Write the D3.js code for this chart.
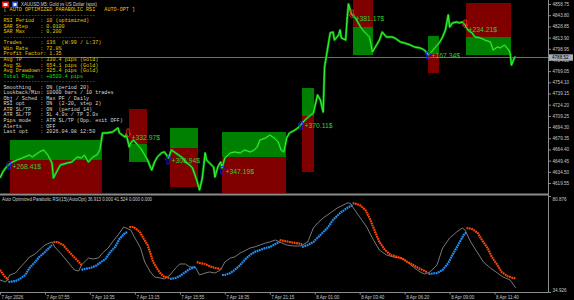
<!DOCTYPE html>
<html>
<head>
<meta charset="utf-8">
<script src="https://cdn.jsdelivr.net/npm/d3@7"></script>
<style>
  html, body { margin: 0; padding: 0; background: #000; }
  svg { display: block; }
  .mono { font-family: "Liberation Mono", "DejaVu Sans Mono", monospace; white-space: pre; }
  .sans { font-family: "Liberation Sans", Arial, sans-serif; }
</style>
</head>
<body>
<svg id="chart"></svg>
<script>
// ---- data ----
// [bar index, price]  (M5 bars, bar 0 = 7 Apr 05:15)
const closes = [[0,4626.2],[2,4634.3],[4,4639.6],[6,4643.6],[9,4647.6],[12,4650.3],[16,4653.0],[21,4657.0],[23,4654.3],[28,4661.0],[31,4663.7],[34,4657.0],[37,4646.3],[38,4626.2],[41,4636.9],[43,4643.6],[48,4646.3],[51,4647.6],[55,4654.3],[58,4653.0],[60,4657.0],[63,4647.6],[66,4654.3],[69,4657.0],[71,4663.7],[73,4686.4],[76,4686.4],[80,4687.7],[84,4693.1],[85,4686.4],[89,4681.0],[90,4683.7],[92,4667.7],[93,4673.0],[95,4677.0],[98,4670.3],[100,4666.3],[103,4657.0],[105,4650.3],[107,4640.9],[108,4636.9],[110,4647.6],[112,4654.3],[115,4659.7],[117,4661.0],[120,4653.0],[122,4663.7],[125,4659.7],[127,4657.0],[130,4653.0],[132,4647.6],[135,4643.6],[137,4639.6],[140,4623.6],[142,4610.2],[144,4626.2],[146,4659.7],[147,4650.3],[149,4646.3],[152,4640.9],[153,4627.6],[155,4640.9],[157,4647.6],[158,4639.6],[160,4653.0],[164,4659.7],[167,4661.0],[171,4659.7],[174,4663.7],[178,4661.0],[181,4663.7],[183,4667.7],[185,4677.0],[189,4679.7],[192,4683.7],[196,4678.4],[198,4674.3],[200,4663.7],[202,4661.0],[204,4679.7],[206,4686.4],[210,4690.4],[212,4693.1],[214,4697.1],[217,4703.7],[221,4710.4],[223,4713.1],[224,4721.1],[226,4737.1],[228,4730.5],[230,4714.4],[231,4774.6],[233,4797.3],[235,4820.0],[237,4821.3],[238,4810.6],[241,4817.3],[242,4824.0],[243,4813.3],[246,4810.6],[247,4837.4],[248,4858.8],[250,4845.4],[253,4840.0],[255,4833.4],[257,4826.7],[260,4820.0],[263,4814.7],[265,4794.6],[268,4804.0],[270,4810.6],[272,4821.3],[275,4814.7],[279,4814.7],[281,4813.3],[285,4808.0],[288,4806.6],[292,4804.0],[295,4801.3],[299,4800.0],[302,4797.3],[305,4790.6],[307,4794.6],[310,4801.3],[313,4808.0],[315,4814.7],[317,4824.0],[319,4844.1],[320,4828.0],[322,4833.4],[325,4834.7],[327,4833.4],[329,4834.7],[331,4830.7],[333,4824.0],[336,4820.0],[338,4814.7],[342,4813.3],[345,4810.6],[349,4808.0],[351,4797.3],[354,4801.3],[356,4800.0],[359,4804.0],[362,4797.3],[363,4793.3],[364,4777.2],[366,4786.6],[367,4788.5]];

const currentPrice = 4788.52;

const priceTicks = [4858.75,4843.80,4828.85,4813.90,4798.95,4784.00,4769.05,4754.10,4739.15,4724.20,4709.25,4694.30,4679.35,4664.40,4649.45,4634.50,4619.55];

const timeBars = [0,32,64,96,128,160,192,224,256,288,320,352];
const timeLabels = ["7 Apr 2026","7 Apr 07:55","7 Apr 10:35","7 Apr 13:15","7 Apr 15:55","7 Apr 18:35","7 Apr 21:15","8 Apr 01:00","8 Apr 03:40","8 Apr 06:20","8 Apr 09:00","8 Apr 11:40"];

// trade zones: upper / entry / lower price, bar span
const trades = [
  {side:"buy",  x0:7,     x1:72.5,  upper:4677.0, mid:4650.3, lower:4606.2},
  {side:"sell", x0:91.8,  x1:104.6, upper:4718.4, mid:4671.7, lower:4647.6},
  {side:"buy",  x0:121,   x1:140.9, upper:4693.1, mid:4666.3, lower:4614.2},
  {side:"buy",  x0:158,   x1:203.5, upper:4687.7, mid:4654.3, lower:4606.2},
  {side:"buy",  x0:214.9, x1:223.5, upper:4746.5, mid:4709.1, lower:4634.3},
  {side:"sell", x0:251.2, x1:265.5, upper:4866.8, mid:4828.0, lower:4790.6},
  {side:"buy",  x0:304.6, x1:312.4, upper:4816.0, mid:4791.9, lower:4766.5},
  {side:"sell", x0:331.6, x1:363.7, upper:4860.1, mid:4814.7, lower:4790.6}
];
const signalBars = [6.4, 91.1, 119.6, 158, 214.2, 250.5, 304.6, 331];
const signalPrices = [4643.6, 4686.4, 4650.3, 4636.9, 4697.1, 4845.4, 4790.6, 4832.0];
const profits = ["+268.41$","+332.97$","+305.94$","+347.19$","+370.11$","+381.17$","+167.34$","+234.21$"];

// RSI (gray) [bar, value]
const rsiLine = [[0,40.67],[4,39.72],[7,43.07],[11,44.02],[14,46.42],[18,49.29],[21,51.68],[25,53.12],[28,55.03],[32,57.42],[37,58.86],[39,56.47],[43,53.60],[46,51.20],[50,47.85],[53,45.46],[56,44.98],[58,47.85],[63,51.20],[66,50.72],[70,51.20],[73,53.60],[77,55.99],[80,58.86],[84,62.21],[88,66.04],[93,64.60],[96,60.77],[100,55.99],[103,49.29],[107,44.50],[110,42.11],[114,41.63],[117,41.15],[121,43.07],[125,46.42],[128,48.33],[132,48.33],[135,46.90],[139,46.90],[142,43.07],[146,44.02],[149,44.50],[153,44.02],[157,45.46],[160,49.29],[164,51.20],[167,51.68],[171,53.60],[174,54.55],[178,55.99],[181,56.47],[185,57.42],[189,58.38],[192,58.86],[196,59.82],[199,58.86],[204,57.42],[209,56.95],[214,56.95],[219,58.86],[223,65.56],[226,67.95],[230,70.35],[235,72.74],[240,75.13],[243,76.09],[247,77.53],[249,77.53],[251,75.61],[256,70.83],[261,66.04],[265,60.77],[270,55.03],[275,52.64],[280,51.68],[285,51.20],[290,49.29],[294,46.90],[299,44.50],[302,43.54],[306,44.50],[311,47.85],[315,55.99],[320,60.77],[325,63.65],[329,65.56],[331,64.60],[335,58.86],[340,53.60],[344,49.29],[349,46.42],[354,44.02],[358,42.11],[363,40.67],[367,36.91]];

// parabolic SAR on RSI, split by trend
const sarSegs = [
  {trend:"down", pts:[[0,45.46],[3,42.59],[6,40.67]]},
  {trend:"up",   pts:[[6,39.72],[11,40.19],[14,41.15],[18,43.07],[21,46.42],[25,49.29],[28,51.68],[32,54.07],[37,57.42]]},
  {trend:"down", pts:[[38,58.86],[41,58.86],[45,57.42],[48,55.03],[52,52.16],[56,49.29],[58,47.85]]},
  {trend:"up",   pts:[[58,45.46],[60,45.94],[64,46.42],[68,47.37],[71,48.81],[75,50.72],[78,53.60],[82,56.47],[85,60.30],[89,63.17],[91,63.65]]},
  {trend:"down", pts:[[92,66.04],[95,66.04],[98,64.60],[100,63.17],[102,60.77],[105,57.42],[107,53.60],[109,49.29],[112,45.94],[114,44.02],[117,42.11],[121,41.63]]},
  {trend:"up",   pts:[[121,41.15],[125,41.63],[128,42.59],[132,44.50],[135,45.94],[139,46.90]]},
  {trend:"down", pts:[[140,49.29],[142,48.81],[146,48.33],[149,47.37],[153,46.42],[157,45.94]]},
  {trend:"up",   pts:[[158,43.07],[160,43.07],[164,44.02],[167,45.46],[171,47.85],[174,50.25],[178,52.64],[181,54.07],[185,55.03],[189,55.99],[192,56.47],[196,57.90],[199,58.86]]},
  {trend:"down", pts:[[199,59.82],[206,58.86],[215,57.90]]},
  {trend:"up",   pts:[[215,56.47],[219,57.42],[223,58.86],[228,62.21],[233,65.56],[237,69.39],[242,72.74],[247,75.13],[251,76.57]]},
  {trend:"down", pts:[[251,77.53],[256,76.57],[260,74.18],[263,70.35],[267,63.65],[270,58.86],[274,55.03],[278,52.64],[283,51.68],[287,50.72],[290,49.29],[294,47.85],[299,45.94],[304,44.50]]},
  {trend:"up",   pts:[[305,43.54],[311,44.02],[315,45.46],[319,48.81],[322,52.64],[326,57.42],[330,62.21],[332,63.65]]},
  {trend:"down", pts:[[332,65.56],[336,65.08],[340,63.17],[343,59.82],[347,55.99],[350,51.68],[354,47.85],[357,44.50],[361,42.59],[365,41.63],[367,41.52]]}
];
const rsiTicks = [80.876, 34.926];

// info panel
const panelLines = [
  {t:"[ AUTO OPTIMIZED PARABOLIC RSI   AUTO-OPT ]", c:"#e6c800"},
  {t:"------------------------------", c:"#9a9a9a"},
  {t:"RSI Period  : 10 (optimized)", c:"#e6c800"},
  {t:"SAR Step    : 0.0100", c:"#e6c800"},
  {t:"SAR Max     : 0.200", c:"#e6c800"},
  {t:"------------------------------", c:"#9a9a9a"},
  {t:"Trades      : 136  (W:99 / L:37)", c:"#e6c800"},
  {t:"Win Rate    : 72.8%", c:"#e6c800"},
  {t:"Profit Factor: 1.35", c:"#e6c800"},
  {t:"Avg TP      : 330.4 pips (Gold)", c:"#e6c800"},
  {t:"Avg SL      : 654.1 pips (Gold)", c:"#e6c800"},
  {t:"Avg Drawdown: 325.4 pips (Gold)", c:"#e6c800"},
  {t:"Total Pips  : +8520.4 pips", c:"#00e000"},
  {t:"------------------------------", c:"#9a9a9a"},
  {t:"Smoothing   : ON (period 20)", c:"#d8d8d8"},
  {t:"Lookback/Min: 10000 bars / 10 trades", c:"#d8d8d8"},
  {t:"Obj / Sched : Max PF / Daily", c:"#d8d8d8"},
  {t:"RSI opt     : ON  (2-20, step 2)", c:"#d8d8d8"},
  {t:"ATR SL/TP   : ON  (period 14)", c:"#d8d8d8"},
  {t:"ATR SL/TP   : SL 4.0x / TP 3.0x", c:"#d8d8d8"},
  {t:"Pips mode   : ATR SL/TP (Opp. exit OFF)", c:"#d8d8d8"},
  {t:"Alerts      : OFF", c:"#d8d8d8"},
  {t:"Last opt    : 2026.04.08 12:50", c:"#d8d8d8"}
];

// ---- drawing ----
const W = 574, H = 300;
const plotRight = 548, mainBottom = 194, subTop = 196, subBottom = 292;

var svg = d3.select("#chart").attr("width", W).attr("height", H);
svg.append("rect").attr("width", W).attr("height", H).attr("fill", "#000");

var defs = svg.append("defs");
defs.append("clipPath").attr("id", "clipMain")
  .append("rect").attr("x", 0).attr("y", 0).attr("width", plotRight).attr("height", mainBottom - 0.5);
defs.append("clipPath").attr("id", "clipSub")
  .append("rect").attr("x", 0).attr("y", subTop).attr("width", plotRight).attr("height", subBottom - subTop);

var x = d3.scaleLinear().domain([0, 390]).range([0, plotRight]);
var y = d3.scaleLinear().domain([4619.55, 4858.75]).range([183, 4]);
var yr = d3.scaleLinear().domain([34.926, 80.876]).range([subBottom, subTop]);

var main = svg.append("g").attr("clip-path", "url(#clipMain)");

// trade zones
trades.forEach(function (d) {
  var upCol = d.side === "buy" ? "#008000" : "#800000";
  var loCol = d.side === "buy" ? "#800000" : "#008000";
  main.append("rect")
    .attr("x", x(d.x0)).attr("width", x(d.x1) - x(d.x0))
    .attr("y", y(d.upper)).attr("height", y(d.mid) - y(d.upper))
    .attr("fill", upCol);
  main.append("rect")
    .attr("x", x(d.x0)).attr("width", x(d.x1) - x(d.x0))
    .attr("y", y(d.mid)).attr("height", y(d.lower) - y(d.mid))
    .attr("fill", loCol);
});

// bid line
main.append("line")
  .attr("x1", 0).attr("x2", plotRight)
  .attr("y1", Math.round(y(currentPrice)) + 0.5).attr("y2", Math.round(y(currentPrice)) + 0.5)
  .attr("stroke", "#6e6e6e").attr("stroke-width", 1);

// price
var priceLine = d3.line().x(function (d) { return x(d[0]); }).y(function (d) { return y(d[1]); });
main.append("path").datum(closes).attr("d", priceLine)
  .attr("fill", "none").attr("stroke", "#0a9a0a").attr("stroke-width", 2.4).attr("stroke-linejoin", "round");
main.append("path").datum(closes).attr("d", priceLine)
  .attr("fill", "none").attr("stroke", "#3cff3c").attr("stroke-width", 0.9).attr("stroke-linejoin", "round");

// signal arrows + profit text
var upArrow = "M0,-4 L3,-0.8 L1.2,-0.8 L1.2,4 L-1.2,4 L-1.2,-0.8 L-3,-0.8 Z";
var downArrow = "M0,4 L3,0.8 L1.2,0.8 L1.2,-4 L-1.2,-4 L-1.2,0.8 L-3,0.8 Z";
trades.forEach(function (d, i) {
  var ax = x(signalBars[i]), ay = y(signalPrices[i]);
  var isBuy = d.side === "buy";
  main.append("path")
    .attr("d", isBuy ? upArrow : downArrow)
    .attr("transform", "translate(" + ax + "," + ay + ")")
    .attr("fill", "none")
    .attr("stroke", isBuy ? "#1a1aff" : "#ff2020")
    .attr("stroke-width", 0.9);
  main.append("text").attr("class", "sans")
    .attr("x", ax + 3.5).attr("y", ay + (isBuy ? 1 : 5))
    .attr("dominant-baseline", "central")
    .attr("font-size", 6.8).attr("fill", "#32cd32")
    .text(profits[i]);
});

// info panel
var panel = svg.append("g");
panel.append("rect").attr("x", 2).attr("y", 1.5).attr("width", 7).attr("height", 6).attr("fill", "#d02020");
panel.append("rect").attr("x", 3.5).attr("y", 3).attr("width", 4).attr("height", 3).attr("fill", "#f0f0f0");
panel.append("rect").attr("x", 12).attr("y", 1.5).attr("width", 6).attr("height", 6).attr("fill", "#3050c0");
panel.append("rect").attr("x", 13.5).attr("y", 3).attr("width", 3).attr("height", 3).attr("fill", "#f0f0f0");
panel.append("text").attr("class", "sans")
  .attr("x", 21).attr("y", 4.5).attr("dominant-baseline", "central")
  .attr("font-size", 4.6).attr("fill", "#d0d0d0")
  .attr("textLength", 76).attr("lengthAdjust", "spacingAndGlyphs")
  .text("XAUUSD,M5:  Gold vs US Dollar (spot)");

panel.selectAll("text.line")
  .data(panelLines).enter()
  .append("text").attr("class", "mono line")
  .attr("x", 3.5)
  .attr("y", function (d, i) { return 10 + i * 5.55; })
  .attr("dominant-baseline", "central")
  .attr("font-size", 5.1)
  .attr("fill", function (d) { return d.c; })
  .text(function (d) { return d.t; });

// ---- sub window ----
var sub = svg.append("g").attr("clip-path", "url(#clipSub)");
var rsiPath = d3.line().x(function (d) { return x(d[0]); }).y(function (d) { return yr(d[1]); });
sub.append("path").datum(rsiLine).attr("d", rsiPath)
  .attr("fill", "none").attr("stroke", "#a0a0a0").attr("stroke-width", 0.75);
sub.selectAll("path.sar")
  .data(sarSegs).enter()
  .append("path").attr("class", "sar")
  .attr("d", function (d) { return rsiPath(d.pts); })
  .attr("fill", "none")
  .attr("stroke", function (d) { return d.trend === "up" ? "#1e90ff" : "#ff4500"; })
  .attr("stroke-width", 2.2)
  .attr("stroke-dasharray", "1.8 0.6");

svg.append("text").attr("class", "sans")
  .attr("x", 2).attr("y", 199.5).attr("dominant-baseline", "central")
  .attr("font-size", 4.6).attr("fill", "#d0d0d0")
  .attr("textLength", 150).attr("lengthAdjust", "spacingAndGlyphs")
  .text("Auto Optimized Parabolic RSI(15)(AutoOpt) 36.913 0.000 41.524 0.000 0.000");

// ---- frames ----
var frameCol = "#8c8c8c";
svg.append("line").attr("x1", plotRight + 0.5).attr("x2", plotRight + 0.5).attr("y1", 0).attr("y2", subBottom)
  .attr("stroke", frameCol).attr("stroke-width", 1);
svg.append("line").attr("x1", 0).attr("x2", plotRight).attr("y1", mainBottom + 0.5).attr("y2", mainBottom + 0.5)
  .attr("stroke", frameCol).attr("stroke-width", 2);
svg.append("line").attr("x1", 0).attr("x2", plotRight + 1).attr("y1", subBottom + 0.5).attr("y2", subBottom + 0.5)
  .attr("stroke", frameCol).attr("stroke-width", 1);

// ---- axes ----
var priceAxis = svg.append("g")
  .attr("transform", "translate(" + (plotRight + 0.5) + ",0)")
  .call(d3.axisRight(y).tickValues(priceTicks).tickFormat(d3.format(".2f")).tickSize(2.5).tickPadding(1.5));
priceAxis.select(".domain").remove();
priceAxis.selectAll("line").attr("stroke", frameCol);
priceAxis.selectAll("text").attr("class", "sans").attr("font-size", 4.6).attr("fill", "#c8c8c8");

// bid price tag
var cpY = Math.round(y(currentPrice)) + 0.5;
svg.append("rect").attr("x", plotRight + 1).attr("y", cpY - 3.2).attr("width", 24).attr("height", 6.4)
  .attr("fill", "#a8acb4");
svg.append("text").attr("class", "sans")
  .attr("x", plotRight + 4).attr("y", cpY).attr("dominant-baseline", "central")
  .attr("font-size", 4.6).attr("fill", "#000")
  .text(d3.format(".2f")(currentPrice));

var rsiAxis = svg.append("g")
  .attr("transform", "translate(" + (plotRight + 0.5) + ",0)")
  .call(d3.axisRight(yr).tickValues(rsiTicks).tickFormat(d3.format(".3f")).tickSize(2.5).tickPadding(1.5));
rsiAxis.select(".domain").remove();
rsiAxis.selectAll("line").attr("stroke", frameCol);
rsiAxis.selectAll("text").attr("class", "sans").attr("font-size", 4.6).attr("fill", "#c8c8c8")
  .attr("dy", function (d) { return d === rsiTicks[0] ? "0.9em" : "-0.15em"; });

var timeAxis = svg.append("g")
  .attr("transform", "translate(0," + (subBottom + 0.5) + ")")
  .call(d3.axisBottom(x).tickValues(timeBars)
    .tickFormat(function (d, i) { return timeLabels[i]; }).tickSize(2).tickPadding(1));
timeAxis.select(".domain").remove();
timeAxis.selectAll("line").attr("stroke", frameCol);
timeAxis.selectAll("text").attr("class", "sans").attr("font-size", 4.5).attr("fill", "#c8c8c8")
  .attr("text-anchor", "start").attr("x", 1);
</script>
</body>
</html>
